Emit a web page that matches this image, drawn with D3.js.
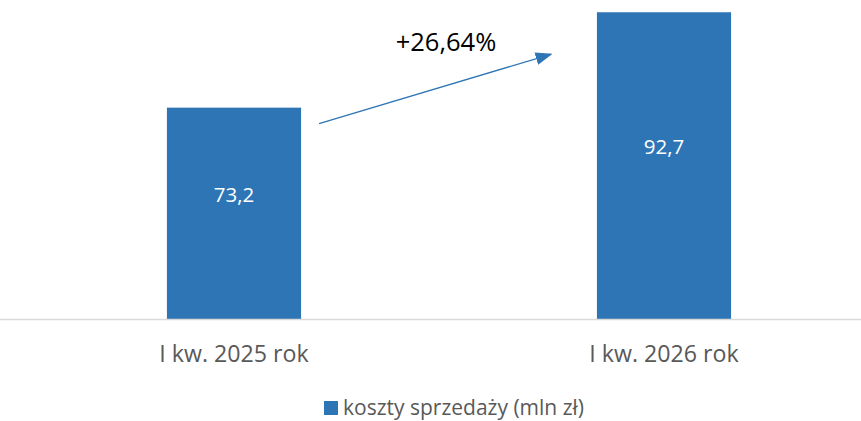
<!DOCTYPE html>
<html lang="pl">
<head>
    <meta charset="UTF-8">
    <title>Koszty sprzedaży</title>
    <script src="https://cdnjs.cloudflare.com/ajax/libs/d3/7.8.5/d3.min.js"></script>
    <style>
        html, body { margin: 0; padding: 0; background: #fff; }
        svg { display: block; font-family: "Open Sans", sans-serif; }
    </style>
</head>
<body>
<svg width="861" height="421"></svg>
<script>
    const categories = ["I kw. 2025 rok", "I kw. 2026 rok"];
    const values = [73.2, 92.7];
    const valueLabels = ["73,2", "92,7"];
    const seriesName = "koszty sprzedaży (mln zł)";
    const changeLabel = "+26,64%";

    const width = 861, height = 421;
    const barColor = "#2E75B6";
    const svg = d3.select("svg");

    const x = d3.scaleBand()
        .domain(categories)
        .range([19, 879])
        .paddingInner(0.688)
        .paddingOuter(0.344);

    const y = d3.scaleLinear()
        .domain([30, 95])
        .range([319, 1]);

    // bars
    svg.append("g")
        .selectAll("rect")
        .data(values)
        .enter()
        .append("rect")
        .attr("x", (d, i) => x(categories[i]))
        .attr("y", d => y(d))
        .attr("width", x.bandwidth())
        .attr("height", d => y(30) - y(d))
        .attr("fill", barColor);

    // data labels
    svg.append("g")
        .selectAll("text")
        .data(values)
        .enter()
        .append("text")
        .attr("x", (d, i) => x(categories[i]) + x.bandwidth() / 2)
        .attr("y", d => (y(d) + y(30)) / 2 - 19)
        .attr("dy", "0.35em")
        .attr("text-anchor", "middle")
        .attr("fill", "#fff")
        .attr("font-size", 20.5)
        .text((d, i) => valueLabels[i]);

    // category axis
    svg.append("line")
        .attr("x1", 0).attr("x2", width)
        .attr("y1", 319.5).attr("y2", 319.5)
        .attr("stroke", "#d9d9d9")
        .attr("stroke-width", 1.5);

    svg.append("g")
        .selectAll("text")
        .data(categories)
        .enter()
        .append("text")
        .attr("x", d => x(d) + x.bandwidth() / 2)
        .attr("y", 362)
        .attr("text-anchor", "middle")
        .attr("fill", "#595959")
        .attr("font-size", 23.2)
        .text(d => d);

    // arrow + change annotation
    const defs = svg.append("defs");
    defs.append("marker")
        .attr("id", "arrowHead")
        .attr("viewBox", "0 0 10 10")
        .attr("refX", 9).attr("refY", 5)
        .attr("markerWidth", 17).attr("markerHeight", 13)
        .attr("markerUnits", "userSpaceOnUse")
        .attr("orient", "auto")
        .attr("preserveAspectRatio", "none")
        .append("path")
        .attr("d", "M0,0 L10,5 L0,10 Z")
        .attr("fill", barColor);

    const arrowStart = [x(categories[0]) + x.bandwidth() + 18, y(values[0]) + 16];
    const arrowEnd = [x(categories[1]) - 46, y(values[1]) + 42];

    svg.append("line")
        .attr("x1", arrowStart[0]).attr("y1", arrowStart[1])
        .attr("x2", arrowEnd[0]).attr("y2", arrowEnd[1])
        .attr("stroke", barColor)
        .attr("stroke-width", 1.3)
        .attr("marker-end", "url(#arrowHead)");

    svg.append("text")
        .attr("x", 446)
        .attr("y", 51)
        .attr("text-anchor", "middle")
        .attr("fill", "#000")
        .attr("font-size", 25.5)
        .text(changeLabel);

    // legend
    const legend = svg.append("g").attr("transform", "translate(324,401)");
    legend.append("rect")
        .attr("width", 14).attr("height", 14)
        .attr("fill", barColor);
    legend.append("text")
        .attr("x", 19).attr("y", 7)
        .attr("dy", "0.35em")
        .attr("fill", "#595959")
        .attr("font-size", 21)
        .text(seriesName);
</script>
</body>
</html>
